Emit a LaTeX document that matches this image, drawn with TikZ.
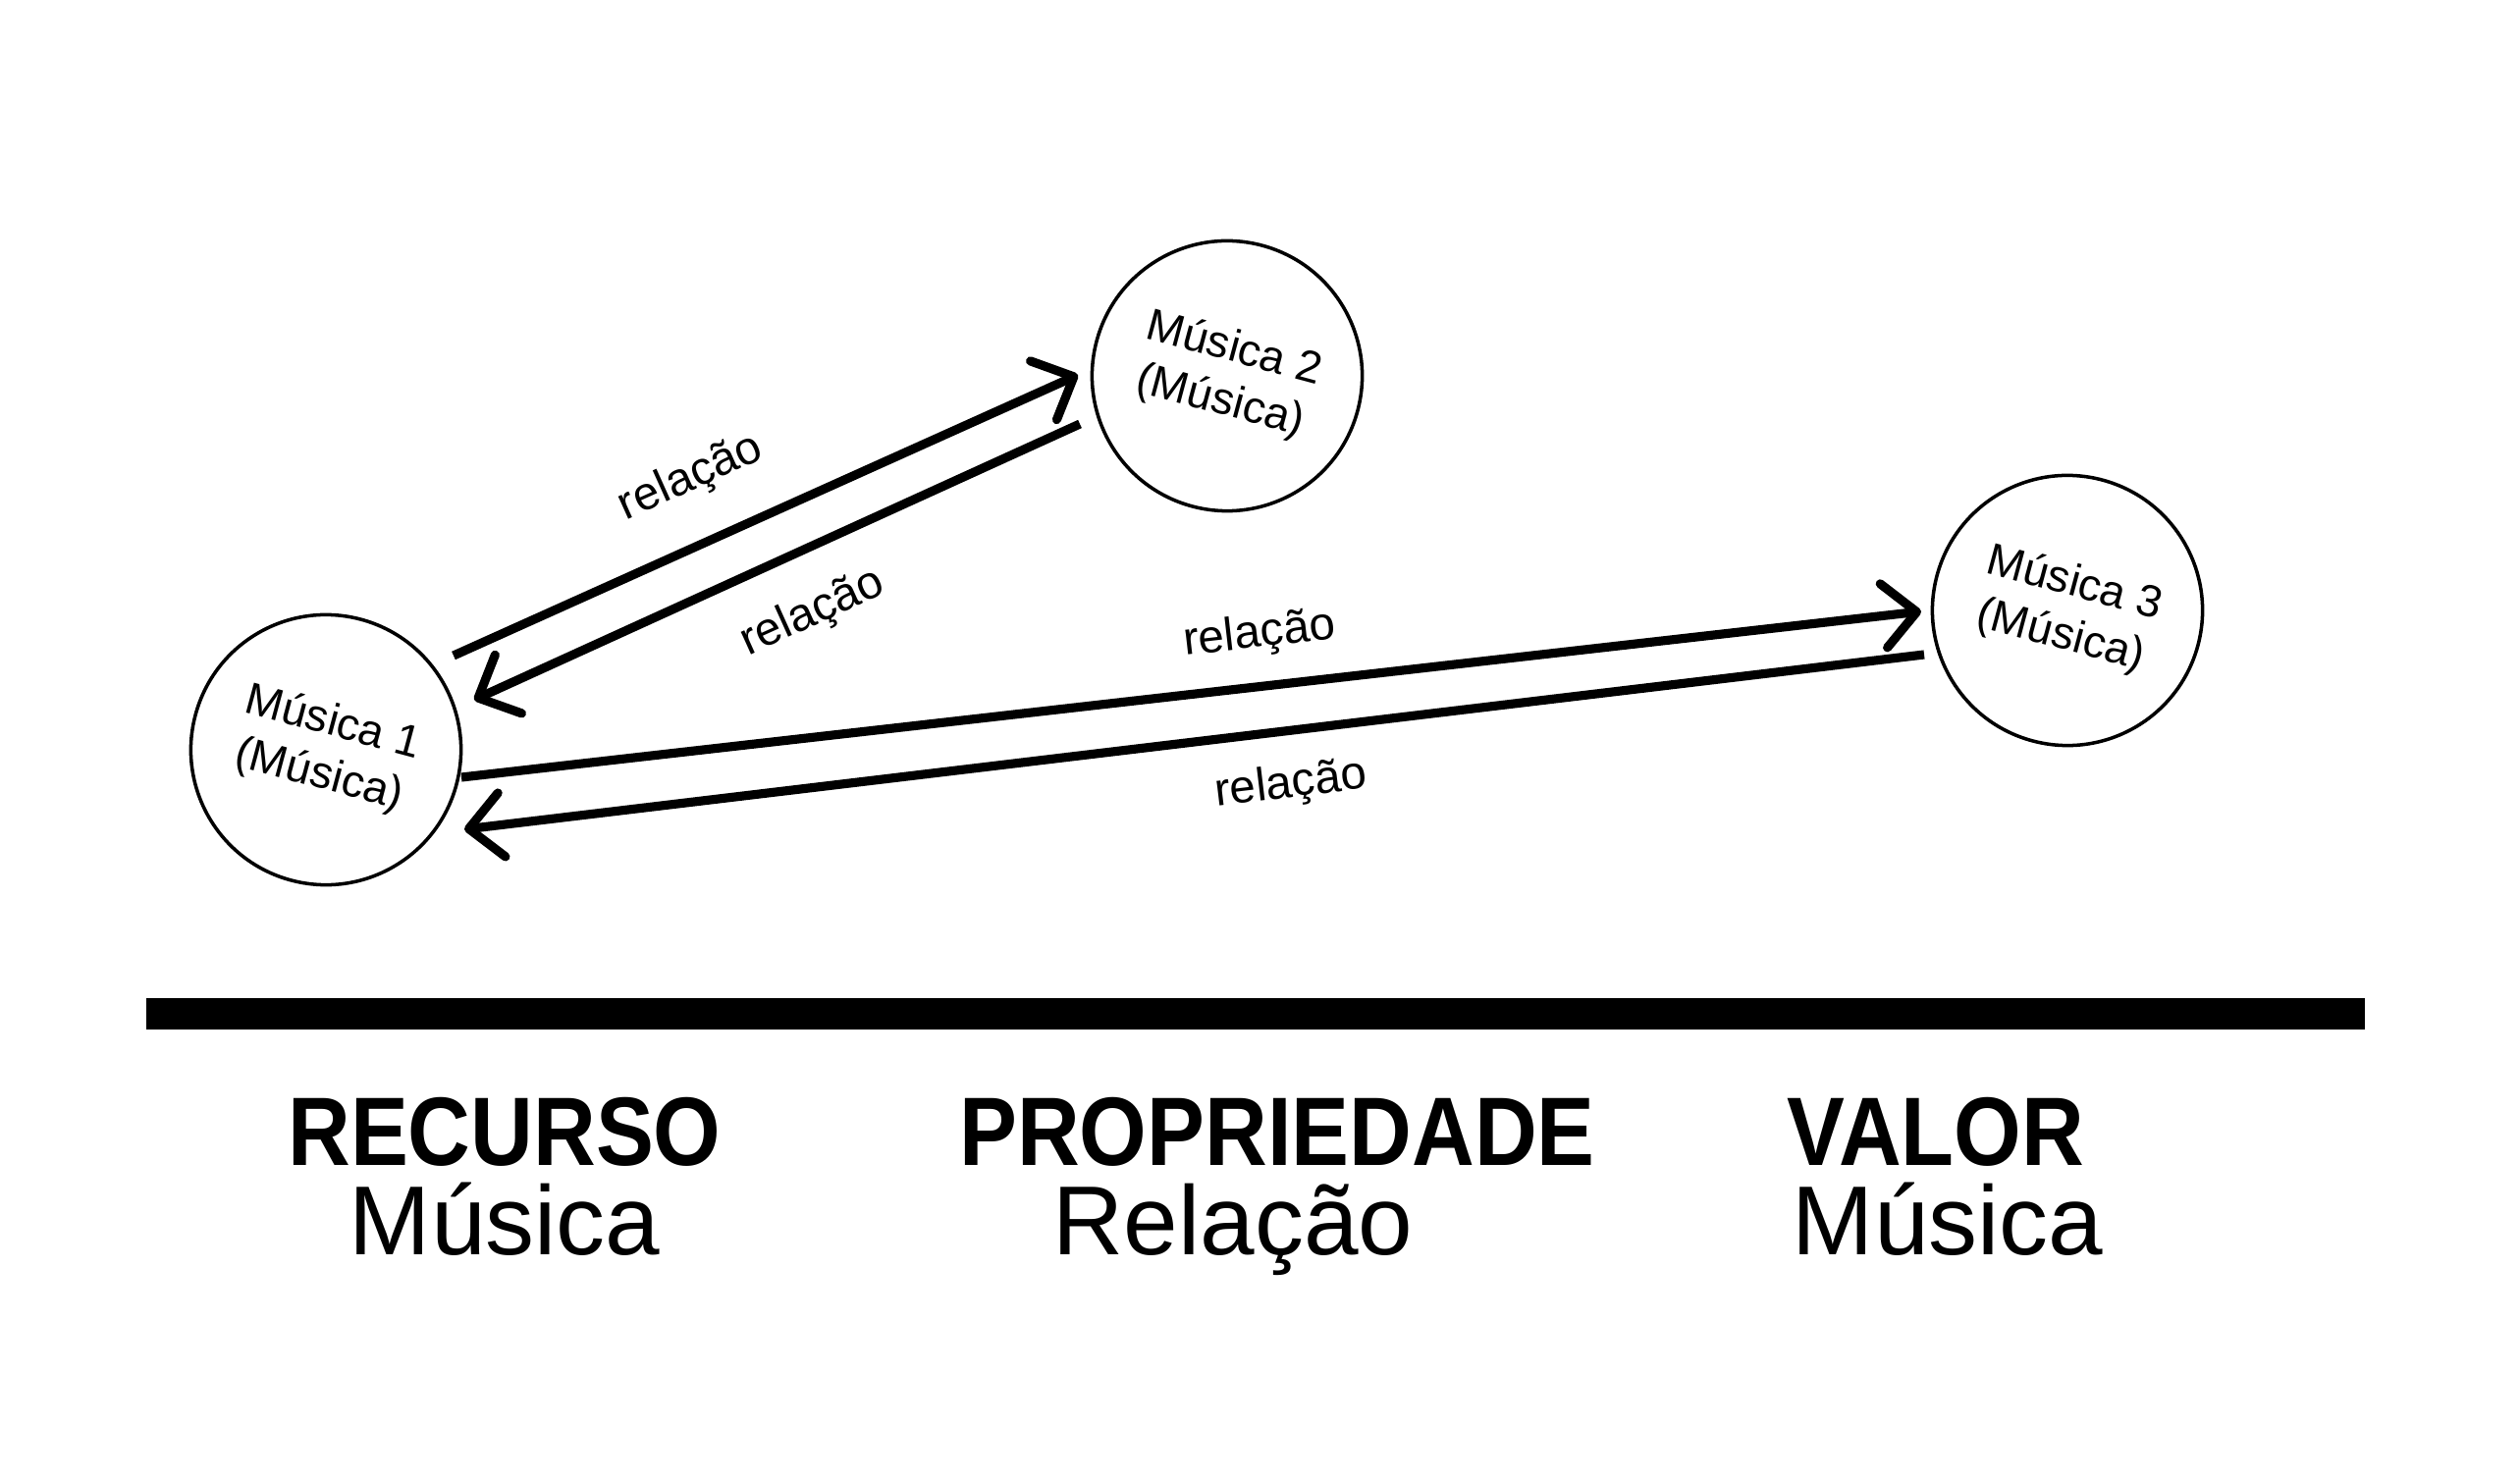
\documentclass[tikz,border=0pt]{standalone}
\usepackage{fontspec}
\setmainfont{Liberation Sans}
\newfontfamily\headfont{Liberation Sans}[FakeStretch=0.89]
\usetikzlibrary{arrows.meta}
\tikzstyle{musica}=[%
	circle, draw, line width=1pt, minimum size=2.75cm, inner sep=0,
	align=center, rotate=-15, font=\fontsize{13}{15.6}\selectfont
]
\tikzstyle{rel}=[line width=2.6pt, -{Straight Barb[length=9.6pt, width=18.6pt, round]}]
\tikzstyle{lbl}=[inner sep=0, font=\fontsize{13.5}{16}\selectfont]
\tikzstyle{head}=[anchor=base, inner sep=0, font=\headfont\bfseries\fontsize{28.2}{34}\selectfont]
\tikzstyle{sub}=[anchor=base, inner sep=0, font=\fontsize{28.4}{34}\selectfont]

\begin{document}
\begin{tikzpicture}[x=0.01cm, y=-0.01cm]
	\useasboundingbox[fill=white] (0,0) rectangle (2567,1507);

	\node[musica] (m1) at ( 332,764) {Música 1\\(Música)};
	\node[musica] (m2) at (1250,383) {Música 2\\(Música)};
	\node[musica] (m3) at (2106,622) {Música 3\\(Música)};

	\coordinate (a12) at ( 462,668);
	\coordinate (b12) at (1098,382);
	\coordinate (a21) at (1100,432);
	\coordinate (b21) at ( 483,713);
	\coordinate (a13) at ( 470,792);
	\coordinate (b13) at (1957,623);
	\coordinate (a31) at (1960,667);
	\coordinate (b31) at ( 473,845);

	\draw[rel] (a12) -- (b12);
	\draw[rel] (a21) -- (b21);
	\draw[rel] (a13) -- (b13);
	\draw[rel] (a31) -- (b31);

	\node[lbl, rotate=24.2] (r12) at ( 704,487) {relação};
	\node[lbl, rotate=24.3] (r21) at ( 828,625) {relação};
	\node[lbl, rotate=6.5]  (r13) at (1283,647) {relação};
	\node[lbl, rotate=6.8]  (r31) at (1315,800) {relação};

	\fill (149,1017) rectangle (2409,1049);

	\node[head] (rec)  at ( 514,1187) {RECURSO};
	\node[sub]  (recs) at ( 514,1278) {Música};
	\node[head] (prop) at (1301,1187) {PROPRIEDADE};
	\node[sub]  (rels) at (1256,1278) {Relação};
	\node[head] (val)  at (1972,1187) {VALOR};
	\node[sub]  (vals) at (1984,1278) {Música};
\end{tikzpicture}
\end{document}
